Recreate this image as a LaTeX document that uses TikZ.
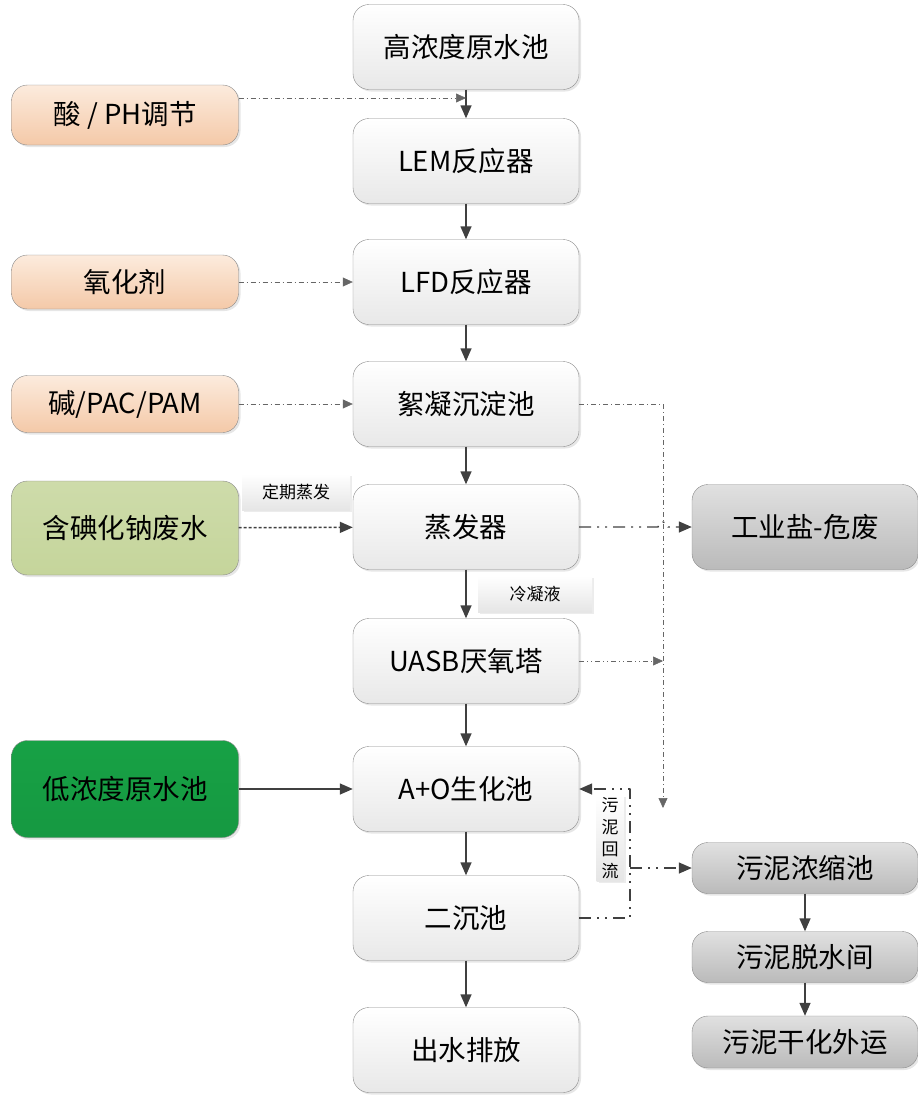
\documentclass[tikz,border=0pt]{standalone}
\usepackage{fontspec}
\setmainfont{Noto Sans CJK SC}
\usetikzlibrary{arrows.meta, shadows}

\definecolor{edge}{HTML}{8A8A8A}
\definecolor{ink}{HTML}{404040}
\definecolor{peachtop}{HTML}{FCEBDD}
\definecolor{peachbot}{HTML}{F4C9A8}
\definecolor{olive}{HTML}{C5D59B}
\definecolor{leaf}{HTML}{17A145}

\tikzset{
    unit/.style={draw=edge, rounded corners=16pt, top color=white, bottom color=black!9,
        drop shadow={opacity=0.2, shadow xshift=2pt, shadow yshift=-2pt},
        minimum width=226pt, minimum height=85pt, font=\fontsize{27.5}{32}\selectfont},
    dosing/.style={unit, top color=peachtop, bottom color=peachbot, minimum width=227pt},
    waste/.style={unit, top color=black!12, bottom color=black!27, minimum width=226pt},
    tag/.style={top color=white, bottom color=black!10,
        drop shadow={opacity=0.15, shadow xshift=2pt, shadow yshift=-2pt},
        inner sep=2pt, font=\fontsize{17}{22}\selectfont},
    flow/.style={draw=ink, line width=1.4pt, -{Triangle[length=13pt, width=11pt]}},
    feed/.style={draw=ink!80, line width=0.6pt, dash pattern=on 5pt off 3pt on 1pt off 3pt,
        -{Triangle[length=10pt, width=9pt]}},
    sludge/.style={draw=ink, line width=1.4pt, dash pattern=on 12pt off 6pt on 2pt off 6pt on 2pt off 6pt,
        -{Triangle[length=13pt, width=11pt]}}
}

\begin{document}
\begin{tikzpicture}[x=1pt, y=-1pt, line cap=butt, line join=round]

    \useasboundingbox (0,0) rectangle (918,1095);

    % Main line
    \node[unit] (raw)  at (466,47)   {高浓度原水池};
    \node[unit] (lem)  at (466,161)  {LEM反应器};
    \node[unit] (lfd)  at (466,282)  {LFD反应器};
    \node[unit] (floc) at (466,404)  {絮凝沉淀池};
    \node[unit] (evap) at (466,527)  {蒸发器};
    \node[unit] (uasb) at (466,661)  {UASB厌氧塔};
    \node[unit] (ao)   at (466,789)  {A+O生化池};
    \node[unit] (sec)  at (466,918)  {二沉池};
    \node[unit] (out)  at (466,1050) {出水排放};

    % Inputs
    \node[dosing, minimum height=60pt] (acid)   at (125,115) {酸 / PH调节};
    \node[dosing, minimum height=54pt] (oxid)   at (125,282) {氧化剂};
    \node[dosing, minimum height=57pt] (alkali) at (125,404) {碱/PAC/PAM};
    \node[unit, top color=olive!85, bottom color=olive, minimum width=227pt, minimum height=94pt] (iodide) at (125,528) {含碘化钠废水};
    \node[unit, top color=leaf, bottom color=leaf!95!black, minimum width=227pt, minimum height=97pt] (lowraw) at (125,789) {低浓度原水池};

    % Residues
    \node[waste] (salt) at (805,527) {工业盐-危废};
    \node[waste, minimum height=51pt] (thick)   at (805,868)  {污泥浓缩池};
    \node[waste, minimum height=51pt] (dewater) at (805,957)  {污泥脱水间};
    \node[waste, minimum height=52pt] (dry)     at (805,1042) {污泥干化外运};

    % Labels
    \node[tag, minimum width=108pt, minimum height=36pt] (evaptag) at (296,492) {定期蒸发};
    \node[tag, minimum width=114pt, minimum height=36pt] (condtag) at (535,594) {冷凝液};
    \node[tag, minimum width=27pt, minimum height=86pt, align=center] (backtag) at (610,838) {污\\泥\\回\\流};

    % Main flow
    \foreach \a/\b in {raw/lem, lem/lfd, lfd/floc, floc/evap, evap/uasb, uasb/ao, ao/sec, sec/out, thick/dewater, dewater/dry}
        \draw[flow] (\a) -- (\b);
    \draw[flow] (lowraw) -- (ao);

    % Dosing
    \coordinate (acidin) at (466,98);
    \draw[feed] (acid.east |- acidin) -- (acidin);
    \draw[feed] (oxid) -- (lfd);
    \draw[feed] (alkali) -- (floc);
    \draw[draw=ink, line width=1.6pt, dash pattern=on 3pt off 2pt, -{Triangle[length=13pt, width=11pt]}] (iodide) -- (evap);

    % Sludge and salt
    \coordinate (drop) at (663,808);
    \draw[feed] (floc.east) -- (drop |- floc.east) -- (drop);
    \draw[feed, dash pattern=on 5pt off 3pt on 1pt off 3pt on 1pt off 3pt] (uasb.east) -- (drop |- uasb.east);
    \draw[sludge] (evap.east) -- ([xshift=-5pt] drop |- evap.east) arc[start angle=180, end angle=0, radius=5pt] -- (salt.west);
    \coordinate (back) at (630,918);
    \draw[sludge] (sec.east) -- (back) -- (back |- ao.east) -- (ao.east);
    \draw[sludge] (back |- thick.west) -- (thick.west);

\end{tikzpicture}
\end{document}
